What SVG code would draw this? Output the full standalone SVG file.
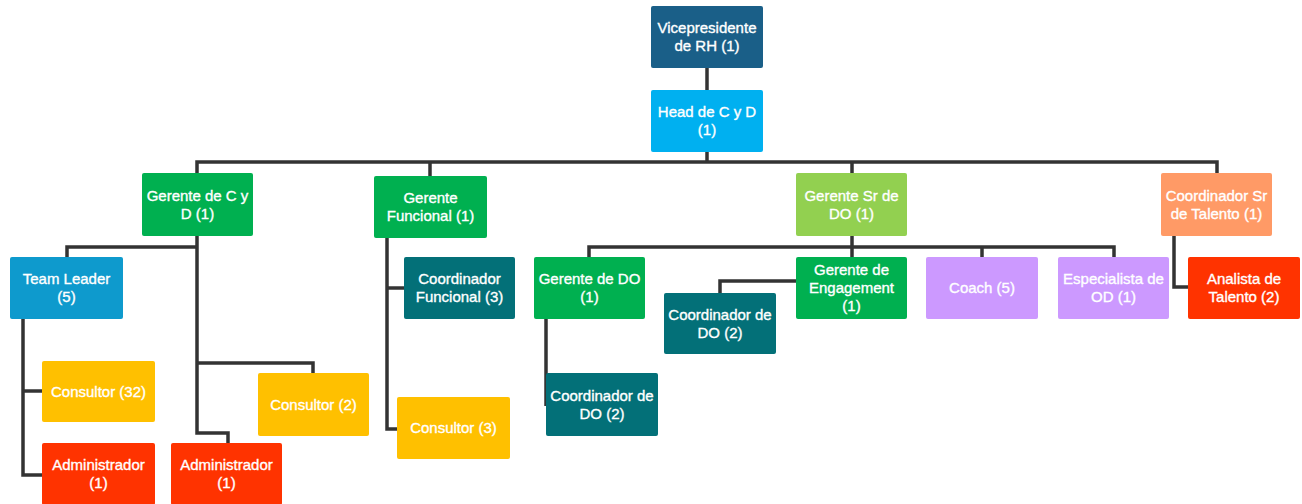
<svg xmlns="http://www.w3.org/2000/svg" width="1302" height="504" viewBox="0 0 1302 504">
<style>
.t{font-family:"Liberation Sans",Arial,sans-serif;font-size:15px;fill:#ffffff;stroke:#ffffff;stroke-width:0.35;text-anchor:middle}
.c{fill:none;stroke:#333333;stroke-width:3.5;stroke-linejoin:miter}
</style>
<rect width="1302" height="504" fill="#ffffff"/>
<g id="connectors">
<path class="c" d="M707 68V90"/>
<path class="c" d="M707 152V162"/>
<path class="c" d="M197 173V162H1217V173"/>
<path class="c" d="M430 162V176"/>
<path class="c" d="M852 162V173"/>
<path class="c" d="M197 236V433H228V443"/>
<path class="c" d="M197 247H67V257"/>
<path class="c" d="M197 363H313V373"/>
<path class="c" d="M23 319V475H42"/>
<path class="c" d="M23 391H42"/>
<path class="c" d="M387 238V429H397"/>
<path class="c" d="M387 288H404"/>
<path class="c" d="M852 236V257"/>
<path class="c" d="M589 257V247H1114V257"/>
<path class="c" d="M982 247V257"/>
<path class="c" d="M546 319V406"/>
<path class="c" d="M720 293V281H796"/>
<path class="c" d="M1174 236V287H1188"/>
</g>
<g id="vp"><rect x="651" y="6" width="112" height="62" rx="2" fill="#1a5f88"/><text class="t" x="707" y="33">Vicepresidente</text><text class="t" x="707" y="51">de RH (1)</text></g>
<g id="head"><rect x="651" y="90" width="112" height="62" rx="2" fill="#00b0f0"/><text class="t" x="707" y="117">Head de C y D</text><text class="t" x="707" y="135">(1)</text></g>
<g id="gerente-cyd"><rect x="142" y="173" width="111" height="63" rx="2" fill="#00b050"/><text class="t" x="197.5" y="200.5">Gerente de C y</text><text class="t" x="197.5" y="218.5">D (1)</text></g>
<g id="gerente-funcional"><rect x="374" y="176" width="113" height="62" rx="2" fill="#00b050"/><text class="t" x="430.5" y="203">Gerente</text><text class="t" x="430.5" y="221">Funcional (1)</text></g>
<g id="gerente-sr-do"><rect x="796" y="173" width="111" height="63" rx="2" fill="#92d050"/><text class="t" x="851.5" y="200.5">Gerente Sr de</text><text class="t" x="851.5" y="218.5">DO (1)</text></g>
<g id="coord-sr-talento"><rect x="1161" y="173" width="111" height="63" rx="2" fill="#ff9a66"/><text class="t" x="1216.5" y="200.5">Coordinador Sr</text><text class="t" x="1216.5" y="218.5">de Talento (1)</text></g>
<g id="team-leader"><rect x="10" y="257" width="113" height="62" rx="2" fill="#0e9acd"/><text class="t" x="66.5" y="284">Team Leader</text><text class="t" x="66.5" y="302">(5)</text></g>
<g id="coord-funcional"><rect x="404" y="257" width="111" height="62" rx="2" fill="#037078"/><text class="t" x="459.5" y="284">Coordinador</text><text class="t" x="459.5" y="302">Funcional (3)</text></g>
<g id="gerente-do"><rect x="534" y="257" width="111" height="62" rx="2" fill="#00b050"/><text class="t" x="589.5" y="284">Gerente de DO</text><text class="t" x="589.5" y="302">(1)</text></g>
<g id="gerente-engagement"><rect x="796" y="257" width="111" height="62" rx="2" fill="#00b050"/><text class="t" x="851.5" y="275">Gerente de</text><text class="t" x="851.5" y="293">Engagement</text><text class="t" x="851.5" y="311">(1)</text></g>
<g id="coach"><rect x="926" y="257" width="112" height="62" rx="2" fill="#cc99ff"/><text class="t" x="982" y="293">Coach (5)</text></g>
<g id="especialista-od"><rect x="1058" y="257" width="111" height="62" rx="2" fill="#cc99ff"/><text class="t" x="1113.5" y="284">Especialista de</text><text class="t" x="1113.5" y="302">OD (1)</text></g>
<g id="analista-talento"><rect x="1188" y="257" width="112" height="62" rx="2" fill="#ff3300"/><text class="t" x="1244" y="284">Analista de</text><text class="t" x="1244" y="302">Talento (2)</text></g>
<g id="coord-do-1"><rect x="664" y="293" width="112" height="61" rx="2" fill="#037078"/><text class="t" x="720" y="319.5">Coordinador de</text><text class="t" x="720" y="337.5">DO (2)</text></g>
<g id="consultor-32"><rect x="42" y="361" width="113" height="61" rx="2" fill="#ffc000"/><text class="t" x="98.5" y="396.5">Consultor (32)</text></g>
<g id="consultor-2"><rect x="258" y="373" width="111" height="63" rx="2" fill="#ffc000"/><text class="t" x="313.5" y="409.5">Consultor (2)</text></g>
<g id="coord-do-2"><rect x="546" y="373" width="112" height="63" rx="2" fill="#037078"/><text class="t" x="602" y="400.5">Coordinador de</text><text class="t" x="602" y="418.5">DO (2)</text></g>
<g id="consultor-3"><rect x="397" y="397" width="113" height="62" rx="2" fill="#ffc000"/><text class="t" x="453.5" y="433">Consultor (3)</text></g>
<g id="administrador-1"><rect x="42" y="443" width="113" height="62" rx="2" fill="#ff3300"/><text class="t" x="98.5" y="470">Administrador</text><text class="t" x="98.5" y="488">(1)</text></g>
<g id="administrador-2"><rect x="171" y="443" width="111" height="62" rx="2" fill="#ff3300"/><text class="t" x="226.5" y="470">Administrador</text><text class="t" x="226.5" y="488">(1)</text></g>
</svg>
